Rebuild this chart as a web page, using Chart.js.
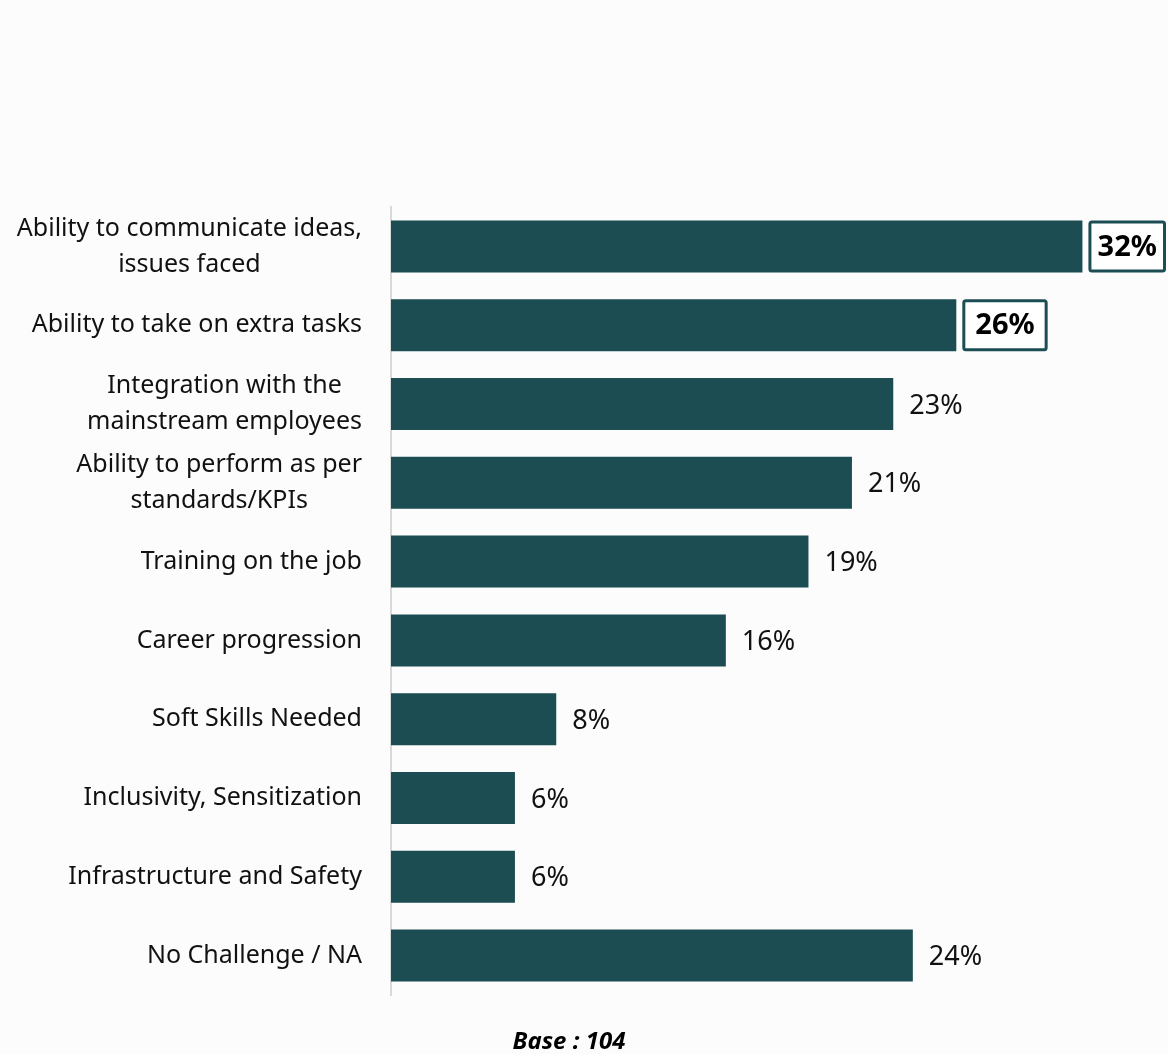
<!DOCTYPE html>
<html>
<head>
<meta charset="utf-8">
<script src="https://cdn.jsdelivr.net/npm/chart.js@4.4.1/dist/chart.umd.min.js"></script>
<style>
  html, body { margin: 0; padding: 0; background: #fcfcfc; }
  #wrap { width: 1168px; height: 1054px; }
</style>
</head>
<body>
<div id="wrap"><canvas id="c" width="1168" height="1054"></canvas></div>
<script>
// ---- data ----
const categories = [
  ["Ability to communicate ideas,", "issues faced"],
  ["Ability to take on extra tasks"],
  ["Integration with the", "mainstream employees"],
  ["Ability to perform as per", "standards/KPIs"],
  ["Training on the job"],
  ["Career progression"],
  ["Soft Skills Needed"],
  ["Inclusivity, Sensitization"],
  ["Infrastructure and Safety"],
  ["No Challenge / NA"]
];
const values = [31.8, 26.0, 23.1, 21.2, 19.2, 15.4, 7.6, 5.7, 5.7, 24.0];
const valueLabels = ["32%", "26%", "23%", "21%", "19%", "16%", "8%", "6%", "6%", "24%"];
const highlighted = [0, 1];
const baseNote = "Base : 104";

const BAR = '#1b4d52';
const FONT = '"Noto Sans", "Open Sans", sans-serif';

const labelPlugin = {
  id: 'labelPlugin',
  afterDatasetsDraw(chart) {
    const ctx = chart.ctx;
    const yScale = chart.scales.y;
    const xScale = chart.scales.x;
    const meta = chart.getDatasetMeta(0);
    ctx.save();
    // category labels
    ctx.fillStyle = '#111';
    ctx.font = '25px ' + FONT;
    ctx.textBaseline = 'middle';
    ctx.textAlign = 'center';
    const lineH = 36;
    const rightEdge = chart.chartArea.left - 29;
    categories.forEach((lines, i) => {
      const cy = yScale.getPixelForValue(i);
      const w = Math.max(...lines.map(l => ctx.measureText(l).width));
      const cx = rightEdge - w / 2;
      const y0 = cy - (lines.length - 1) * lineH / 2;
      lines.forEach((l, j) => ctx.fillText(l, cx, y0 + j * lineH));
    });
    // value labels
    meta.data.forEach((bar, i) => {
      const endX = xScale.getPixelForValue(values[i]);
      const cy = bar.y;
      if (highlighted.includes(i)) {
        ctx.font = 'bold 29px ' + FONT;
        const tw = ctx.measureText(valueLabels[i]).width;
        const bx = endX + 6;
        const right = Math.min(bx + tw + 26, chart.width - 2);
        const bw = right - bx;
        const bh = bar.height;
        ctx.fillStyle = '#ffffff';
        ctx.strokeStyle = BAR;
        ctx.lineWidth = 3;
        ctx.beginPath();
        ctx.roundRect(bx + 1.5, cy - bh / 2 + 1.5, bw - 3, bh - 3, 2);
        ctx.fill();
        ctx.stroke();
        ctx.fillStyle = '#000';
        ctx.textAlign = 'center';
        ctx.fillText(valueLabels[i], bx + bw / 2, cy + 1);
      } else {
        ctx.font = '27px ' + FONT;
        ctx.fillStyle = '#111';
        ctx.textAlign = 'left';
        ctx.fillText(valueLabels[i], endX + 16, cy + 2);
      }
    });
    // base note
    ctx.font = 'italic bold 24px ' + FONT;
    ctx.fillStyle = '#000';
    ctx.textAlign = 'center';
    ctx.fillText(baseNote, 569, 1042);
    ctx.restore();
  }
};

new Chart(document.getElementById('c'), {
  type: 'bar',
  data: {
    labels: categories.map(c => c.join(' ')),
    datasets: [{
      data: values,
      backgroundColor: BAR,
      borderWidth: 0,
      categoryPercentage: 1,
      barPercentage: 0.66
    }]
  },
  options: {
    indexAxis: 'y',
    responsive: false,
    animation: false,
    layout: { padding: { left: 391, top: 207, bottom: 59, right: 16 } },
    plugins: { legend: { display: false }, tooltip: { enabled: false }, title: { display: false } },
    scales: {
      x: { display: false, min: 0, max: 35 },
      y: {
        display: true,
        ticks: { display: false },
        grid: { display: false, drawTicks: false },
        border: { display: true, color: '#d9d9d9', width: 2 },
        afterFit: s => { s.width = 0; }
      }
    }
  },
  plugins: [labelPlugin]
});
</script>
</body>
</html>
